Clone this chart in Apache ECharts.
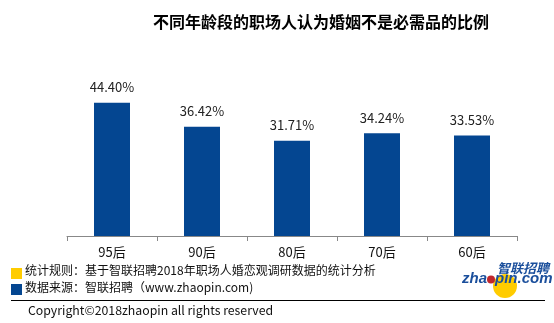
<!DOCTYPE html>
<html><head><meta charset="utf-8">
<script src="https://cdn.jsdelivr.net/npm/echarts@6/dist/echarts.min.js"></script>
<style>html,body{margin:0;padding:0;background:#fff}#c{width:554px;height:323px}</style>
</head><body><div id="c"></div>
<script>
var titleText = '不同年龄段的职场人认为婚姻不是必需品的比例';
var categories = ['95后', '90后', '80后', '70后', '60后'];
var values = [44.40, 36.42, 31.71, 34.24, 33.53];
var noteRule = '统计规则：基于智联招聘2018年职场人婚恋观调研数据的统计分析';
var noteSource = '数据来源：智联招聘（www.zhaopin.com)';
var copyright = 'Copyright©2018zhaopin all rights reserved';

var FONT = '"Microsoft YaHei","Noto Sans CJK SC","Noto Sans",sans-serif';
var BLUE = '#044691';
var chart = echarts.init(document.getElementById('c'), null, {renderer: 'canvas'});
chart.setOption({
  animation: false,
  backgroundColor: '#fff',
  textStyle: {fontFamily: FONT},
  title: {
    text: titleText, left: 316, textAlign: 'center', top: 9,
    textStyle: {fontSize: 16, fontWeight: 'bold', color: '#000', fontFamily: FONT}
  },
  grid: {left: 67, right: 37, top: 86, bottom: 87, containLabel: false},
  xAxis: {
    type: 'category', data: categories,
    axisLine: {lineStyle: {color: '#888', width: 1}},
    axisTick: {show: true, length: 5, lineStyle: {color: '#888'}},
    axisLabel: {color: '#111', fontSize: 13, margin: 10, fontFamily: FONT}
  },
  yAxis: {type: 'value', min: 0, max: 50, show: false, splitLine: {show: false}},
  series: [{
    type: 'bar', data: values, barWidth: 36,
    itemStyle: {color: BLUE},
    label: {show: true, position: 'top', distance: 9, fontSize: 13, color: '#222', fontFamily: FONT,
      formatter: function(p){ return p.value.toFixed(2) + '%'; }}
  }],
  graphic: [
    {type: 'rect', shape: {x: 11, y: 268, width: 11, height: 11}, style: {fill: '#FFCC00'}},
    {type: 'rect', shape: {x: 11, y: 284, width: 11, height: 11}, style: {fill: BLUE}},
    {type: 'text', x: 25, y: 270, style: {text: noteRule, fill: '#111', font: '12px ' + FONT, verticalAlign: 'middle'}},
    {type: 'text', x: 25, y: 287, style: {text: noteSource, fill: '#111', font: '12px ' + FONT, verticalAlign: 'middle'}},
    {type: 'line', shape: {x1: 11, y1: 300.5, x2: 545, y2: 300.5}, style: {stroke: '#000', lineWidth: 1}},
    {type: 'text', x: 28, y: 310, style: {text: copyright, font: '12.3px ' + FONT, fill: '#111', verticalAlign: 'middle'}},
    {type: 'circle', shape: {cx: 505, cy: 286, r: 12}, style: {fill: '#FFCC00'}},
    {type: 'text', x: 549, y: 268, style: {text: '智联招聘', font: 'italic bold 13px ' + FONT, fill: '#1B4F9C', align: 'right', verticalAlign: 'middle'}},
    {type: 'text', x: 487, y: 279, style: {text: 'zha', font: 'italic bold 15px "Liberation Sans",Arial,sans-serif', fill: '#1B4F9C', align: 'right', verticalAlign: 'middle'}},
    {type: 'circle', shape: {cx: 491, cy: 279.5, r: 4}, style: {fill: '#C0272D'}},
    {type: 'text', x: 495, y: 279, style: {text: 'pin.com', font: 'italic bold 15px "Liberation Sans",Arial,sans-serif', fill: '#1B4F9C', align: 'left', verticalAlign: 'middle'}}
  ]
});
</script></body></html>
